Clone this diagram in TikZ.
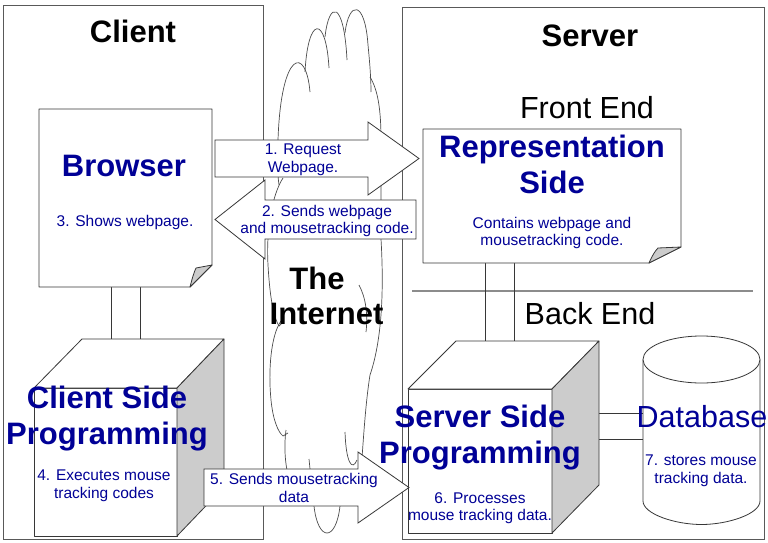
\documentclass[tikz,border=0pt]{standalone}
\usepackage{fontspec}
\setmainfont{Liberation Sans}
\definecolor{tblue}{RGB}{0,0,150}
\definecolor{foldgray}{RGB}{204,204,204}
\definecolor{edgecol}{RGB}{55,55,55}
\tikzset{
  outline/.style={draw=edgecol, line width=0.8pt, line join=round},
  panel/.style={draw=black!65, line width=0.9pt},
  divider/.style={draw=black!45, line width=2pt},
  cloudline/.style={draw=black!70, line width=0.7pt},
  blockarrow/.style={draw=edgecol, line width=0.8pt, fill=white, line join=miter},
  sidefill/.style={outline, fill=foldgray},
  paper/.style={outline, fill=white},
  title/.style={font=\fontsize{31}{35}\selectfont\bfseries, text=black, inner sep=0pt},
  plainlabel/.style={font=\fontsize{30.5}{35}\selectfont, text=black, inner sep=0pt},
  bigblue/.style={font=\fontsize{31}{36}\selectfont\bfseries, text=tblue, align=center, inner sep=0pt},
  smalltxt/.style={font=\fontsize{15.5}{17.5}\selectfont, text=tblue, align=center, inner sep=0pt},
}
\begin{document}
\begin{tikzpicture}[x=1pt,y=-1pt]
\useasboundingbox (0,0) rectangle (768,543);
\fill[white] (0,0) rectangle (768,543);
% panels
\draw[panel] (3,5) rectangle (263,539);
\draw[panel] (402,7) rectangle (764,539);
\coordinate (divL) at (412,291);
\coordinate (divR) at (753,291);
\draw[divider] (divL) -- (divR);

% cloud (The Internet)
\draw[cloudline] (279,185) .. controls (277,170) and (277,155) .. (278,140)
   .. controls (281,50) and (306,45) .. (310,92);
\draw[cloudline] (305,72) .. controls (308,15) and (326,15) .. (329,68);
\draw[cloudline] (325,37) .. controls (329,0) and (344,0) .. (347,60);
\draw[cloudline] (345,33) .. controls (349,0) and (365,0) .. (368,45)
   .. controls (370,65) and (371,80) .. (371,92);
\draw[cloudline] (370,77) .. controls (378,90) and (381,110) .. (381,140) -- (381,239)
   .. controls (384,290) and (382,340) .. (370,375)
   .. controls (366,400) and (364,430) .. (362,458);
\draw[cloudline] (359,285) .. controls (366,298) and (368,315) .. (366,332);
\draw[cloudline] (345,432) .. controls (346,462) and (352,472) .. (357,460);
\draw[cloudline] (283,178) .. controls (272,195) and (266,230) .. (268,265)
   .. controls (270,300) and (274,318) .. (279,326) -- (283,322);
\draw[cloudline] (281,321) .. controls (271,335) and (268,370) .. (271,400)
   .. controls (273,420) and (278,432) .. (283,436) -- (288,433);
\draw[cloudline] (286,430) .. controls (284,445) and (285,460) .. (287,470);
\draw[cloudline] (309,459) -- (310,469);
\draw[cloudline] (314,506) .. controls (318,542) and (336,542) .. (340,506);

% connector coordinates
\coordinate (brB1) at (111,287);
\coordinate (brB2) at (140,287);
\coordinate (ccT1) at (111,339);
\coordinate (ccT2) at (140,339);
\coordinate (rpB1) at (485,263);
\coordinate (rpB2) at (514,263);
\coordinate (scT1) at (485,341);
\coordinate (scT2) at (514,341);
\coordinate (scR1) at (599,413);
\coordinate (scR2) at (599,439);
\coordinate (dbL1) at (643,413);
\coordinate (dbL2) at (643,439);
\draw[outline] (brB1) -- (ccT1);
\draw[outline] (brB2) -- (ccT2);
\draw[outline] (rpB1) -- (scT1);
\draw[outline] (rpB2) -- (scT2);
\draw[outline] (scR1) -- (dbL1);
\draw[outline] (scR2) -- (dbL2);

% browser document
\draw[paper] (39,109) -- (212,109) -- (212,265) -- (190,287) -- (39,287) -- cycle;
\draw[sidefill] (190,287) .. controls (192,279) and (194,272) .. (196,268) -- (212,265) -- cycle;
% representation document
\draw[paper] (423,129) -- (681,129) -- (681,247) -- (649,263) -- (423,263) -- cycle;
\draw[sidefill] (649,263) .. controls (652,256) and (655,251) .. (658,248) -- (681,247) -- cycle;

% client side cube
\draw[paper] (34,388) rectangle (177,536);
\draw[paper] (34,388) -- (82,339) -- (224,339) -- (177,388) -- cycle;
\draw[sidefill] (177,388) -- (224,339) -- (224,487) -- (177,536) -- cycle;
% server side cube
\draw[paper] (408,389) rectangle (552,533);
\draw[paper] (408,389) -- (456,341) -- (599,341) -- (552,389) -- cycle;
\draw[sidefill] (552,389) -- (599,341) -- (599,485) -- (552,533) -- cycle;

% database
\draw[paper] (643,359.5) -- (643,501)
   .. controls (643,514) and (675.2,524.5) .. (701.5,524.5)
   .. controls (727.8,524.5) and (760,514) .. (760,501) -- (760,359.5);
\draw[paper] (701.5,359.5) ellipse [x radius=58.5pt, y radius=23.5pt];

% block arrows
\draw[blockarrow] (215,140) -- (368,140) -- (368,122) -- (419,158.5) -- (368,195) -- (368,177) -- (215,177) -- cycle;
\draw[blockarrow] (416,200) -- (265,200) -- (265,180) -- (215,219.5) -- (265,259) -- (265,239) -- (416,239) -- cycle;
\draw[blockarrow] (204,469) -- (358,469) -- (358,452) -- (409,487.5) -- (358,523) -- (358,506) -- (204,506) -- cycle;

% texts
\node[title, anchor=base] (client) at (133,43) {Client};
\node[title, anchor=base] (server) at (590,47) {Server};
\node[plainlabel, anchor=base] (frontend) at (587,118) {Front End};
\node[plainlabel, anchor=base] (backend) at (590,324) {Back End};
\node[title, align=center] (internet) at (326.5,296) {The\rule{19pt}{0pt}\\Internet};
\node[bigblue, anchor=base] (browser) at (124,176) {Browser};
\node[smalltxt, anchor=base] (shows) at (125,226) {3. Shows webpage.};
\node[bigblue] (repr) at (552,164) {Representation\\Side};
\node[smalltxt] (contains) at (552,233) {Contains webpage and\\mousetracking code.};
\node[bigblue] (csp) at (107,419) {Client Side\\Programming};
\node[smalltxt] (executes) at (104,486) {4. Executes mouse\\tracking codes};
\node[bigblue] (ssp) at (480,438) {Server Side\\Programming};
\node[smalltxt] (processes) at (480,508) {6. Processes\\mouse tracking data.};
\node[font=\fontsize{30.5}{35}\selectfont, text=tblue, inner sep=0pt, anchor=base] (database) at (702,427) {Database};
\node[smalltxt] (stores) at (701,471) {7. stores mouse\\tracking data.};
\node[smalltxt] (request) at (303,160) {1. Request\\Webpage.};
\node[smalltxt] (sends) at (327,221) {2. Sends webpage\\and mousetracking code.};
\node[smalltxt] (sendsdata) at (294,488) {5. Sends mousetracking\\data};
\end{tikzpicture}
\end{document}
